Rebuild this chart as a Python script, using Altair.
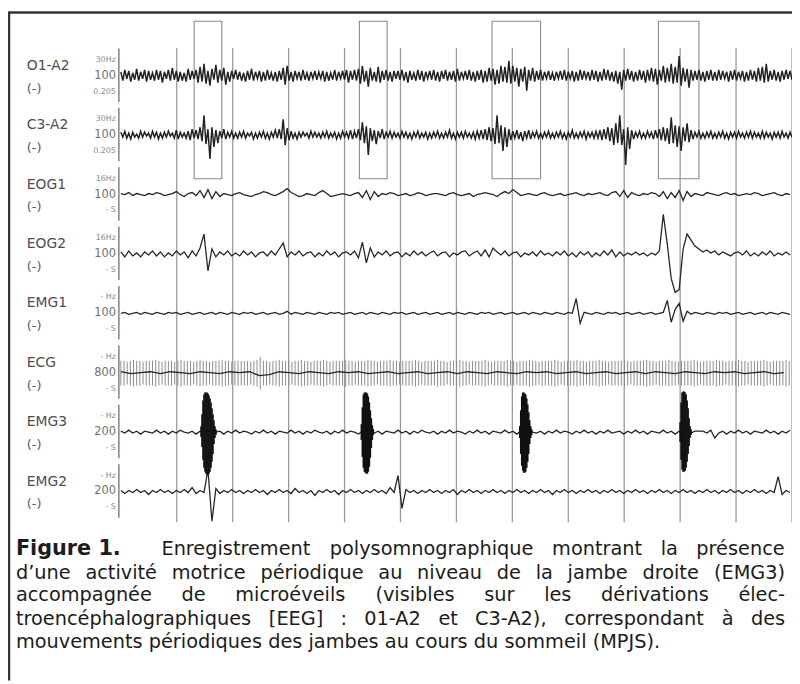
import altair as alt
import pandas as pd

# ---------------- data ----------------
CHANNELS = ["O1-A2", "C3-A2", "EOG1", "EOG2", "EMG1", "ECG", "EMG3", "EMG2"]
TOP_LABELS = ["30Hz", "30Hz", "16Hz", "16Hz", "- Hz", "- Hz", "- Hz", "- Hz"]
MID_LABELS = ["100", "100", "100", "100", "100", "800", "200", "200"]
BOT_LABELS = ["0.205", "0.205", "- S", "- S", "- S", "- S", "- S", "- S"]

GRID_TIMES = [1, 2, 3, 4, 5, 6, 7, 8, 9, 10, 11, 12]
BOX_START = [1.31, 4.265, 6.637, 9.611]
BOX_END = [1.805, 4.761, 7.504, 10.336]

# EEG channels sampled twice as finely as the others
O1_A2 = [4,-5,6,-3,5,-6,3,-4,7,-5,4,-3,6,-6,5,-4,3,-5,6,-4,
         5,-7,4,-3,6,-5,8,-4,5,-6,4,-5,3,-6,7,-4,5,-3,6,-7,
         9,-6,12,-8,5,-10,7,-4,11,-7,6,-5,8,-9,4,-6,5,-3,6,-4,
         4,-5,3,-6,5,-4,7,-5,4,-3,5,-6,4,-5,6,-4,3,-5,4,-6,
         5,-4,8,-9,10,-5,4,-6,5,-3,4,-5,6,-4,3,-5,4,-3,5,-4,
         4,-3,5,-6,4,-5,3,-4,6,-5,4,-3,5,-4,6,-7,5,-4,6,-5,
         7,-8,10,-6,5,-11,8,-5,4,-6,9,-7,5,-4,6,-5,4,-6,5,-3,
         5,-4,6,-5,4,-7,5,-4,3,-5,6,-4,5,-6,4,-3,5,-4,6,-5,
         4,-6,5,-3,6,-5,4,-4,5,-6,7,-5,4,-3,5,-4,6,-5,4,-6,
         5,-4,6,-7,5,-6,8,-5,7,-9,6,-8,10,-6,9,-7,15,-8,10,-6,
         8,-11,7,-6,9,-15,6,-5,8,-6,5,-4,6,-5,4,-3,5,-4,3,-5,
         4,-3,5,-4,6,-5,4,-3,5,-6,4,-5,6,-4,5,-3,4,-5,6,-4,
         5,-6,4,-5,7,-4,6,-5,4,-6,5,-8,4,-14,6,-5,7,-4,5,-6,
         4,-5,6,-4,5,-7,6,-5,8,-6,7,-9,6,-5,10,-7,8,-6,12,-8,
         9,-7,20,-10,8,-6,7,-12,6,-5,5,-4,6,-5,4,-6,5,-4,6,-5,
         4,-5,6,-4,5,-3,4,-6,5,-4,6,-5,4,-3,5,-6,4,-5,6,-4,
         5,-6,8,-5,9,-7,12,-6,5,-4,6,-5,4,-6,5,-4,6,-3,5,-4]
C3_A2 = [3,-2,4,-3,2,-4,3,-2,1,-3,4,-2,3,-1,2,-3,4,-2,3,-4,
         2,-3,3,-2,4,-1,2,-3,5,-4,3,-2,2,-3,4,-5,6,-3,5,-4,
         8,-6,20,-9,6,-24,8,-12,5,-8,4,-3,6,-4,3,-2,4,-3,2,-3,
         3,-2,4,-3,2,-1,3,-4,2,-3,3,-2,4,-3,2,-4,3,-2,5,-3,
         6,-4,16,-10,7,-5,4,-3,2,-4,3,-2,3,-1,2,-3,4,-2,3,-2,
         2,-3,3,-2,4,-3,2,-2,3,-4,2,-3,4,-2,3,-3,5,-4,4,-3,
         6,-5,13,-8,9,-20,7,-6,5,-9,4,-3,6,-4,3,-2,4,-3,3,-2,
         2,-3,4,-2,3,-3,2,-4,3,-2,4,-3,2,-2,3,-4,2,-3,3,-2,
         4,-3,2,-3,3,-2,5,-3,2,-4,3,-2,3,-3,4,-2,2,-3,3,-4,
         4,-3,5,-4,6,-5,8,-6,7,-9,20,-8,10,-16,8,-12,6,-5,4,-3,
         5,-4,3,-6,4,-3,5,-4,3,-2,4,-3,2,-3,3,-2,4,-3,2,-3,
         3,-2,4,-3,2,-4,3,-2,5,-3,2,-3,3,-2,4,-4,3,-2,3,-3,
         4,-3,5,-5,6,-4,8,-6,7,-10,12,-8,20,-10,6,-30,8,-14,5,-4,
         3,-2,4,-3,2,-3,4,-2,3,-4,5,-3,6,-5,8,-6,7,-9,18,-8,
         10,-12,9,-16,8,-6,12,-7,5,-4,3,-2,4,-3,2,-3,3,-2,4,-3,
         2,-3,3,-2,4,-3,2,-4,3,-2,3,-3,4,-2,2,-3,3,-2,4,-3,
         3,-2,2,-3,4,-3,3,-2,2,-4,3,-2,3,-3,4,-2,2,-3,3,-2]
EOG1 = [1,0,2,-1,1,0,-1,1,0,2, 1,-1,0,1,3,0,-2,1,2,-1, 4,-3,5,-4,3,-2,1,0,-1,1,
        2,0,-1,-2,0,1,3,2,0,-1, 1,3,6,2,0,-2,-1,1,0,-1, 2,4,1,-2,-1,0,1,0,-1,1,
        2,-3,4,-5,3,-2,1,0,2,1, -1,0,1,-1,0,2,1,-1,0,1, 1,0,-1,1,2,0,-1,0,1,-2,
        0,1,2,1,0,-2,1,3,1,5, 2,-1,0,1,0,-1,1,2,0,-1, 0,1,-1,0,1,2,0,-1,1,0,
        1,2,0,-1,2,3,-2,4,-3,2, 0,-1,1,0,2,1,-2,3,-4,2, -3,4,-6,3,-2,1,0,-1,2,1,
        0,-1,1,2,0,1,-1,0,1,0, 2,1,-1,0,1,2,0,-1,1,0]
EOG2 = [2,-3,3,-2,1,-3,2,-1,3,-2, 2,-3,1,-2,3,-1,2,-4,3,-2, 6,20,-17,5,-3,2,-1,3,-2,1,
        -2,3,-1,2,-3,1,2,-2,3,-1, 5,11,-3,2,-1,3,-2,1,2,-3, 1,-2,3,-1,2,-3,1,2,-1,3,
        -4,12,-9,6,-3,2,-1,3,-2,1, 2,-3,1,-2,3,-1,2,-2,1,3, -2,1,2,-3,1,-1,2,3,-2,1,
        3,-2,4,-3,6,2,-1,3,-2,1, 2,-3,1,-1,2,-2,3,-1,1,-2, 2,-1,3,-2,1,-3,2,-1,2,-3,
        1,-2,3,-1,4,-3,2,-2,1,-1, 2,-1,1,-2,1,-1,3,40,10,-25, -39,-36,5,20,14,8,5,2,4,1,
        3,-1,2,0,-2,1,2,-1,3,-2, 1,-2,2,-1,3,-2,1,-1,2,-1]
EMG1 = [0,1,-1,0,1,-1,1,0,-1,1, 0,-1,1,0,1,-1,0,1,-1,0, 1,-1,0,1,-1,1,0,-1,1,0,
        -1,1,0,1,-1,0,1,-1,0,1, -1,0,2,-1,1,0,-1,1,0,-1, 1,0,-1,1,0,1,-1,0,1,-1,
        0,1,-1,1,0,-1,1,0,-1,1, 0,1,-1,0,1,-1,0,1,-1,0, 1,-1,0,1,-1,1,0,-1,1,0,
        -1,1,0,1,-1,0,1,-1,0,1, -1,0,1,-1,1,0,-1,1,0,-1, 1,0,-1,1,0,15,-10,1,0,-1,
        1,0,-1,1,0,1,-1,0,1,-1, 0,1,-1,0,1,-1,0,1,13,-9, 4,10,-8,2,-1,1,0,-1,1,0,
        -1,1,0,1,-1,0,1,-1,0,1, -1,0,1,-1,1,0,-1,1,0,-1]
EMG3 = [1,-1,2,-1,1,-2,1,0,-1,2, -1,1,-2,1,-1,2,0,-1,1,-2, 1,-1,2,-1,0,1,-2,1,-1,2,
        -1,1,0,-2,1,-1,2,-1,1,-2, 1,0,-1,2,-1,1,-2,1,-1,2, 0,-1,1,-2,1,-1,2,-1,1,0,
        -2,1,-1,2,-1,1,-2,1,0,-1, 2,-1,1,-2,1,-1,2,0,-1,1, -2,1,-1,2,-1,1,0,-2,1,-1,
        2,-1,1,-2,1,0,-1,2,-1,1, -2,1,-1,2,0,-1,1,-2,1,-1, 2,-1,1,0,-2,1,-1,2,-1,1,
        -2,1,-1,2,-1,0,1,-2,1,-1, 2,-1,1,-2,1,0,-1,2,-1,1, -2,1,-1,2,-1,1,1,1,-1,2,
        -6,-1,1,-2,1,-1,2,-1,1,-2, 1,0,-1,2,-1,1,-2,1,-1,2]
EMG2 = [1,-2,1,-1,2,-1,1,-3,1,-1, 2,-1,1,-2,1,-1,2,-1,4,-2, 1,-1,22,-30,3,-2,1,-1,2,-1,
        1,-2,1,-1,2,-1,1,-3,1,-1, 2,-1,1,-2,3,-1,1,-2,1,-4, 1,-1,2,-1,1,-3,1,-1,2,-1,
        1,-2,1,-1,2,-1,1,-2,4,-1, 16,-17,2,-1,1,-2,1,-1,2,-1, 1,-2,1,-1,2,-3,1,-1,2,-1,
        1,-2,1,-1,2,-1,1,-2,1,-1, 2,-1,1,-2,1,-1,2,-1,1,-3, 1,-1,2,-1,1,-2,1,-1,2,-1,
        1,-2,1,-1,2,-1,1,-2,1,-1, 2,-1,1,-2,1,-1,2,-1,1,-2, 1,-1,2,-1,1,-2,1,-1,2,-1,
        1,-2,1,-1,2,-1,1,-2,1,-1, 2,-1,1,-2,1,-1,15,-3,1,-1]

ECG_BASE = [1,-1,0,1,-1,1,0,-1,1,0,-1,1,0,1,-3,-2,1,0,-1,1,0,-1,1,0,1,-1,0,1,-1,0,1,-1,0,1,
            -1,1,0,-1,1,0,-1,1,0,1,-1,0,1,-1,0,1,-1,0,1,-1,1,0,-1,1,0,-1,1,0,1,-1,0,1,-1,0]
ECG_QRS = [12,12,11,12,13,12,12,11,12,12,12,13,12,11,12,12,12,11,12,13,
           12,12,12,11,12,13,12,12,11,12,12,12,13,12,12,11,12,12,12,12,
           12,11,12,13,16,12,12,11,12,12,13,12,12,12,11,12,12,13,12,12,
           11,12,12,12,13,12,11,12,12,12,12,13,12,12,11,12,12,12,13,12,
           12,11,12,12,12,13,12,12,11,12,12,12,12,13,12,11,12,12,12,12,
           13,12,12,11,12,12,12,13,12,12,11,12,12,12,12,13,12,11,12,12,
           12,12,13,12,12,11,12,12,12,13,12,12,11,12,12,12,12,13,12,11,
           12,12,12,12,13,12,12,11,12,12,12,13,12,12,11,12,12,12,12,13,
           12,11,12,12,12,12,13,12,12,11,12,12,12,13,12,12,11,12,12,12,
           12,13,12,11,12,12,12,12,13,12,12,11,12,12,12,13,12,12,11,12,
           12,12,12,13,12,11,12,12,12,12,13,12]

# EMG3 leg-movement bursts (start time, upper and lower envelope per column)
BURST_START = [1.434, 4.301, 7.133, 10.0]
BURST_UP = [[6,18,32,38,40,40,40,39,37,34,30,24,18,12,6,3],
            [8,25,38,40,40,40,39,36,30,22,14,7,3],
            [6,22,36,40,40,39,38,34,28,20,12,6,3],
            [10,30,40,41,41,40,38,32,24,14,6,3]]
BURST_DOWN = [[5,15,28,36,40,42,43,43,42,40,36,30,22,12,6,3],
              [8,25,36,40,41,42,42,40,35,26,16,8,3],
              [6,22,34,39,41,41,40,36,30,22,12,6,3],
              [10,28,38,40,40,39,36,30,22,14,6,3]]

CAPTION_BOLD = "Figure 1."
CAPTION_L1 = "Enregistrement polysomnographique montrant la présence"
CAPTION_L2 = "d\u2019une activité motrice périodique au niveau de la jambe droite (EMG3)"
CAPTION_L3 = "accompagnée de microéveils (visibles sur les dérivations élec-"
CAPTION_L4 = "troencéphalographiques [EEG] : 01-A2 et C3-A2), correspondant à des"
CAPTION_L5 = "mouvements périodiques des jambes au cours du sommeil (MPJS)."

# ---------------- layout helpers ----------------
PX_PER_T = 56.5
PX_PER_V = 60.0
X0_PX, Y0_PX = 122.0, 73.0


def tx(px):
    return (px - X0_PX) / PX_PER_T


def vy(py):
    return (py - Y0_PX) / PX_PER_V


T_MIN, T_MAX = tx(8), tx(800)
V_MIN, V_MAX = vy(8), vy(684)
XS = alt.Scale(domain=[T_MIN, T_MAX], nice=False, zero=False)
YS = alt.Scale(domain=[V_MIN, V_MAX], reverse=True, nice=False, zero=False)


def X(f):
    return alt.X(f, type="quantitative", scale=XS, axis=None)


def Y(f):
    return alt.Y(f, type="quantitative", scale=YS, axis=None)


DT = 4 / PX_PER_T
EEG_DT = 2 / PX_PER_T
ECG_DT = 3.2 / PX_PER_T

# ---------------- tables ----------------
trace_rows = []
SIGNALS = [O1_A2, C3_A2, EOG1, EOG2, EMG1, None, EMG3, EMG2]
for k, (name, vals) in enumerate(zip(CHANNELS, SIGNALS)):
    if vals is None:
        continue
    step = EEG_DT if k < 2 else DT
    for i, a in enumerate(vals):
        trace_rows.append({"ch": name, "t": i * step, "v": k - a / PX_PER_V})
ecg_k = CHANNELS.index("ECG")
ECG_BASE_DT = 10 / PX_PER_T
for i, a in enumerate(ECG_BASE):
    trace_rows.append({"ch": "ECGbase", "t": i * ECG_BASE_DT, "v": ecg_k - a / PX_PER_V})
traces = pd.DataFrame(trace_rows)
eeg_traces = traces[traces["ch"].isin(["O1-A2", "C3-A2"])]
other_traces = traces[~traces["ch"].isin(["O1-A2", "C3-A2"])]

ecg = pd.DataFrame({"t": [i * ECG_DT for i in range(len(ECG_QRS))],
                    "v": [ecg_k - a / PX_PER_V for a in ECG_QRS],
                    "v2": [ecg_k + (a + 1) / PX_PER_V for a in ECG_QRS]})

emg3_k = CHANNELS.index("EMG3")
burst_rows = []
for s, ups, downs in zip(BURST_START, BURST_UP, BURST_DOWN):
    for j, (u, d) in enumerate(zip(ups, downs)):
        burst_rows.append({"t": s + j / PX_PER_T, "v": emg3_k - u / PX_PER_V,
                           "v2": emg3_k + d / PX_PER_V})
bursts = pd.DataFrame(burst_rows)

grid = pd.DataFrame({"t": GRID_TIMES, "v": vy(45), "v2": vy(524)})
boxes = pd.DataFrame({"t": BOX_START, "t2": BOX_END, "v": vy(18), "v2": vy(177)})
axis_seg = pd.DataFrame({"t": tx(120), "v": [k - 0.46 for k in range(len(CHANNELS))],
                         "v2": [k + 0.44 for k in range(len(CHANNELS))]})

labels = pd.DataFrame({"name": CHANNELS, "k": range(len(CHANNELS))})
labels["t"] = tx(27)
labels["vn"] = labels["k"] - 10 / PX_PER_V
labels["vm"] = labels["k"] + 13 / PX_PER_V
labels["minus"] = "(-)"
scale_lab = pd.DataFrame({"top": TOP_LABELS, "mid": MID_LABELS, "bot": BOT_LABELS,
                          "k": range(len(CHANNELS))})
scale_lab["t"] = tx(117)
scale_lab["vt"] = scale_lab["k"] - 16 / PX_PER_V
scale_lab["vb"] = scale_lab["k"] + 16 / PX_PER_V

# ---- justified caption: word placement from approximate DejaVu Sans advance widths ----
CAP_FONT = "DejaVu Sans"
CAP_SIZE = 19.5
ADV = {" ": .318, "a": .613, "b": .635, "c": .550, "d": .635, "e": .615, "f": .352, "g": .635,
       "h": .634, "i": .278, "j": .278, "k": .579, "l": .278, "m": .974, "n": .634, "o": .612,
       "p": .635, "q": .635, "r": .411, "s": .521, "t": .392, "u": .634, "v": .592, "w": .818,
       "x": .592, "y": .592, "z": .525, "é": .615, "à": .613, "A": .684, "C": .698, "E": .632,
       "G": .775, "J": .295, "M": .863, "P": .603, "S": .635, "(": .390, ")": .390, "[": .390,
       "]": .390, "-": .361, ":": .337, ".": .318, ",": .318, "\u2019": .318}


def word_w(w):
    return sum(ADV.get(c, 0.636) for c in w) * CAP_SIZE


def place(line, x_start, x_end, y_px, justify=True):
    words = line.split(" ")
    widths = [word_w(w) for w in words]
    if justify and len(words) > 1:
        gap = (x_end - x_start - sum(widths)) / (len(words) - 1)
    else:
        gap = ADV[" "] * CAP_SIZE
    rows, x = [], x_start
    for w, wd in zip(words, widths):
        rows.append({"text": w, "t": tx(x), "v": vy(y_px)})
        x += wd + gap
    return rows


RIGHT_EDGE = 793
cap_rows = []
cap_rows += place(CAPTION_L1, 163, RIGHT_EDGE, 551)
cap_rows += place(CAPTION_L2, 16, RIGHT_EDGE, 575)
cap_rows += place(CAPTION_L3, 16, RIGHT_EDGE, 598)
cap_rows += place(CAPTION_L4, 16, RIGHT_EDGE, 622)
cap_rows += place(CAPTION_L5, 16, 0, 645, justify=False)
cap_words = pd.DataFrame(cap_rows)
cap_bold = pd.DataFrame({"text": [CAPTION_BOLD], "t": [tx(16)], "v": [vy(551)]})

# ---------------- layers ----------------
frame_top = alt.Chart(pd.DataFrame({"a": [0]})).mark_rule(color="#333", strokeWidth=2.5).encode(
    x=alt.value(1), x2=alt.value(792), y=alt.value(1))
frame_left = alt.Chart(pd.DataFrame({"a": [0]})).mark_rule(color="#333", strokeWidth=2.5).encode(
    x=alt.value(1), y=alt.value(0), y2=alt.value(676))

grid_l = alt.Chart(grid).mark_rule(color="#9a9a9a", strokeWidth=1.3).encode(
    x=X("t"), y=Y("v"), y2="v2")
box_l = alt.Chart(boxes).mark_rect(fill=None, fillOpacity=0, stroke="#8a8a8a", strokeWidth=1.1).encode(
    x=X("t"), x2="t2", y=Y("v"), y2="v2")
axis_l = alt.Chart(axis_seg).mark_rule(color="#777", strokeWidth=1.4).encode(
    x=X("t"), y=Y("v"), y2="v2")

ecg_l = alt.Chart(ecg).mark_rule(color="#8c8c8c", strokeWidth=1.0).encode(
    x=X("t"), y=Y("v"), y2="v2")
eeg_l = alt.Chart(eeg_traces).mark_line(color="#222222", strokeWidth=1.5).encode(
    x=X("t"), y=Y("v"), detail="ch:N", order="t:Q")
trace_l = alt.Chart(other_traces).mark_line(color="#262626", strokeWidth=1.3).encode(
    x=X("t"), y=Y("v"), detail="ch:N", order="t:Q")
burst_l = alt.Chart(bursts).mark_rule(color="#111111", strokeWidth=1.7).encode(
    x=X("t"), y=Y("v"), y2="v2")

LAB_FONT = "DejaVu Sans"
name_l = alt.Chart(labels).mark_text(align="left", baseline="middle", font=LAB_FONT,
                                     fontSize=14, color="#4d4d4d").encode(
    x=X("t"), y=Y("vn"), text="name:N")
minus_l = alt.Chart(labels).mark_text(align="left", baseline="middle", font=LAB_FONT,
                                      fontSize=13, color="#5a5a5a").encode(
    x=X("t"), y=Y("vm"), text="minus:N")
top_l = alt.Chart(scale_lab).mark_text(align="right", baseline="middle", font=LAB_FONT,
                                       fontSize=8, color="#8a8a8a").encode(
    x=X("t"), y=Y("vt"), text="top:N")
mid_l = alt.Chart(scale_lab).mark_text(align="right", baseline="middle", font=LAB_FONT,
                                       fontSize=11.5, color="#707070").encode(
    x=X("t"), y=Y("k"), text="mid:N")
bot_l = alt.Chart(scale_lab).mark_text(align="right", baseline="middle", font=LAB_FONT,
                                       fontSize=8, color="#8a8a8a").encode(
    x=X("t"), y=Y("vb"), text="bot:N")

cap_l = alt.Chart(cap_words).mark_text(align="left", baseline="middle", font=CAP_FONT,
                                       fontSize=CAP_SIZE, color="#1c1c1c").encode(
    x=X("t"), y=Y("v"), text="text:N")
cap_b = alt.Chart(cap_bold).mark_text(align="left", baseline="middle", font=CAP_FONT,
                                      fontSize=21, fontWeight="bold", color="#1c1c1c").encode(
    x=X("t"), y=Y("v"), text="text:N")

chart = alt.layer(
    grid_l, box_l, axis_l, ecg_l, trace_l, eeg_l, burst_l,
    name_l, minus_l, top_l, mid_l, bot_l,
    cap_l, cap_b, frame_top, frame_left,
).properties(
    width=792, height=676, padding=0,
    autosize=alt.AutoSizeParams(type="none"),
    background="white",
).configure_view(stroke=None)

chart.save("out.html", embed_options={"renderer": "svg", "actions": False})
